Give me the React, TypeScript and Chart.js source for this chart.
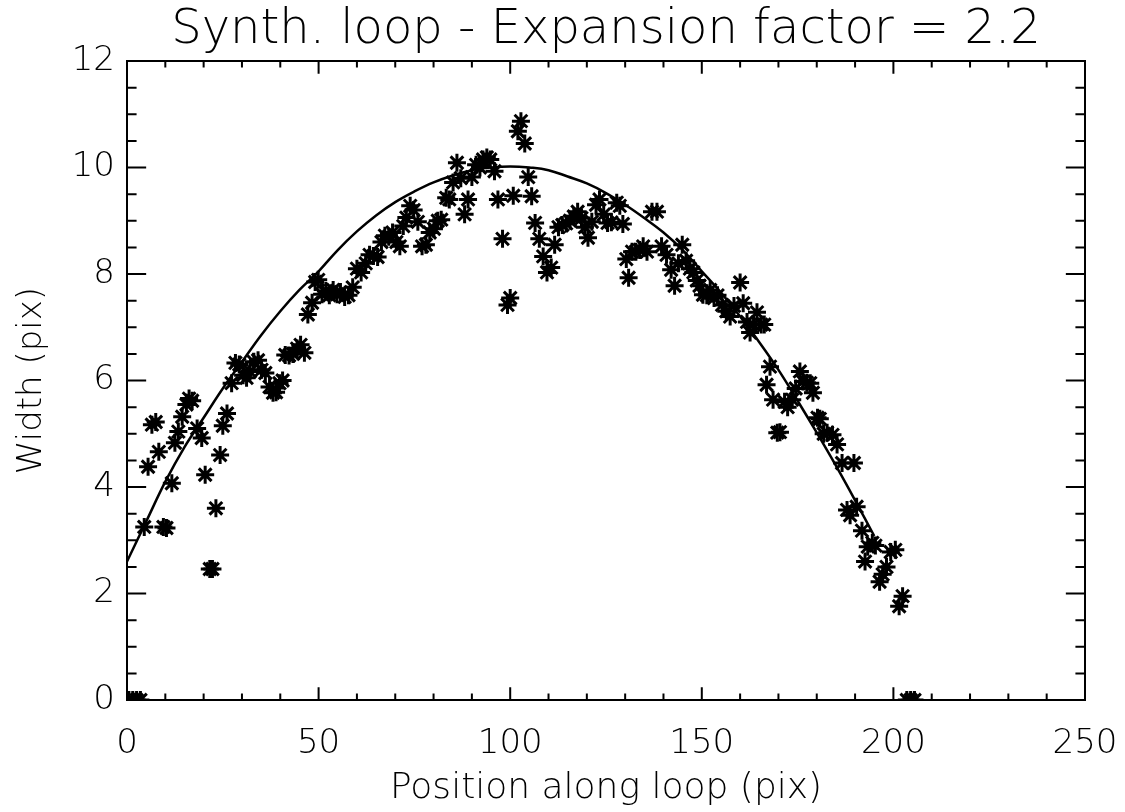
import React, { useEffect, useRef } from "react";
import { Chart, registerables } from "chart.js";

Chart.register(...registerables);

const TITLE = "Synth. loop - Expansion factor = 2.2";
const X_LABEL = "Position along loop (pix)";
const Y_LABEL = "Width (pix)";

// measured widths (stars)
const posX = [
  0.5, 1.5, 2.5, 3.5, 4.5, 5.5, 6.5, 7.5, 8.3, 9.5, 10.3, 11.7, 12.5, 13.4, 14.4, 15.5, 16.2, 17, 18.3, 19.5,
  20.4, 21.6, 22.3, 23.2, 24.3, 25, 26.1, 27.3, 28.3, 29.3, 30.3, 31.2, 32.1, 33.1, 34.2, 35.1, 36.1, 37.2, 38.1, 38.9,
  39.8, 40.6, 41.3, 42.3, 43.3, 44.4, 45.3, 46.3, 47.2, 48.3, 49.1, 49.9, 50.9, 51.9, 52.8, 53.8, 54.8, 55.7, 56.8, 57.8,
  58.9, 60, 61.1, 62.3, 63.3, 64.3, 65.4, 66.4, 67.3, 68.3, 69.3, 70.3, 71.2, 72.1, 72.9, 73.9, 74.8, 75.9, 77, 78,
  79, 80.1, 81.1, 82, 83.3, 84.1, 85.1, 86.1, 87.1, 88.1, 89, 90, 91.1, 92.1, 92.9, 93.9, 94.8, 95.9, 96.8, 98,
  99.3, 100, 100.8, 102, 102.8, 103.8, 104.7, 105.6, 106.5, 107.6, 108.6, 109.6, 110.7, 111.6, 112.6, 113.6, 114.6, 115.6, 116.6, 117.6,
  118.6, 119.5, 120.3, 121.3, 122.4, 123.3, 124.4, 125.4, 126.4, 127.8, 128.6, 129.4, 130.3, 130.9, 131.8, 132.8, 133.8, 134.7, 135.7, 137,
  138.3, 139.5, 140.8, 142, 142.9, 143.9, 144.9, 145.9, 146.9, 147.8, 148.7, 149.4, 150.3, 151.3, 152.2, 153.2, 154.1, 155.3, 156.4, 157.4,
  158.4, 160, 160.8, 161.8, 162.6, 163.5, 164.4, 165.5, 166.3, 166.9, 167.8, 168.6, 169.7, 170.4, 171.6, 172.4, 173.6, 174.5, 175.6, 176.4,
  177.4, 178.3, 179, 180.2, 180.8, 181.8, 182.7, 184.1, 185.3, 186.6, 187.9, 188.7, 189.7, 190.4, 191.8, 192.6, 193.3, 194.5, 195.3, 196.4,
  197.2, 198.2, 199.3, 200.5, 201.5, 202.4, 203.5, 204.5, 205.5,
];
const widthY = [
  0, 0, 0, 0, 3.25, 4.38, 5.17, 5.22, 4.66, 3.25, 3.23, 4.07, 4.83, 5.04, 5.32, 5.55, 5.66, 5.62, 5.1, 4.92,
  4.23, 2.46, 2.46, 3.6, 4.6, 5.15, 5.38, 5.95, 6.33, 6.3, 6.1, 6.05, 6.17, 6.35, 6.38, 6.2, 6.14, 5.88, 5.77, 5.78,
  5.95, 6.0, 6.48, 6.47, 6.5, 6.6, 6.67, 6.52, 7.24, 7.46, 7.85, 7.89, 7.62, 7.68, 7.6, 7.7, 7.62, 7.66, 7.57, 7.6,
  7.75, 8.1, 8.03, 8.2, 8.36, 8.34, 8.32, 8.6, 8.72, 8.7, 8.78, 8.6, 8.52, 8.9, 9.06, 9.28, 9.2, 8.98, 8.52, 8.55,
  8.78, 8.85, 9.0, 9.02, 9.43, 9.4, 9.72, 10.09, 9.8, 9.12, 9.4, 9.82, 10.05, 10.0, 10.15, 10.19, 10.15, 9.93, 9.4, 8.66,
  7.42, 7.55, 9.47, 10.68, 10.87, 10.45, 9.82, 9.46, 8.96, 8.66, 8.33, 8.03, 8.12, 8.55, 8.88, 8.92, 8.95, 9.0, 9.08, 9.17,
  9.05, 8.88, 8.68, 8.98, 9.3, 9.4, 9.12, 8.96, 8.97, 9.34, 9.28, 8.94, 8.28, 7.93, 8.42, 8.42, 8.45, 8.52, 8.42, 9.17,
  9.17, 8.52, 8.36, 8.08, 7.78, 8.2, 8.55, 8.25, 8.1, 8.03, 7.88, 7.78, 7.61, 7.6, 7.7, 7.55, 7.6, 7.42, 7.3, 7.2,
  7.4, 7.84, 7.45, 7.1, 6.9, 7.05, 7.28, 7.05, 7.05, 5.92, 6.26, 5.64, 5.02, 5.03, 5.6, 5.5, 5.64, 5.85, 6.17, 5.98,
  5.96, 5.95, 5.77, 5.3, 5.28, 5.0, 5.02, 4.98, 4.8, 4.45, 3.57, 3.47, 4.45, 3.63, 3.18, 2.6, 2.88, 2.95, 2.9, 2.22,
  2.36, 2.5, 2.78, 2.82, 1.76, 1.95, 0, 0, 0,
];

// fitted profile (solid line)
const fitX = [0, 5, 10, 15, 20, 25, 30, 35, 40, 45, 50, 55, 60, 65, 70, 75, 80, 85, 90, 95, 100, 105, 110, 115, 120, 125, 130, 135, 140, 145, 150, 155, 160, 165, 170, 175, 180, 185, 190, 195];
const fitY = [2.6, 3.35, 4.1, 4.75, 5.3, 5.85, 6.35, 6.85, 7.3, 7.7, 8.05, 8.45, 8.8, 9.1, 9.35, 9.55, 9.72, 9.85, 9.95, 10.0, 10.02, 10.0, 9.95, 9.83, 9.7, 9.52, 9.3, 9.05, 8.78, 8.45, 8.05, 7.65, 7.2, 6.72, 6.2, 5.62, 5.02, 4.4, 3.75, 3.08];

const X_MIN = 0, X_MAX = 250, X_MAJOR = 50, X_MINOR = 10;
const Y_MIN = 0, Y_MAX = 12, Y_MAJOR = 2, Y_MINOR = 0.5;

const FONT = "'DejaVu Sans', 'Liberation Sans', sans-serif";

const boxPlugin = {
  id: "idlBox",
  afterDatasetsDraw(chart: any) {
    const { ctx, chartArea: a, scales } = chart;
    const xs = scales.x, ys = scales.y;
    const h = a.bottom - a.top, w = a.right - a.left;
    const xMaj = 0.02 * h, yMaj = 0.02 * w;
    ctx.save();
    ctx.strokeStyle = "#000";
    ctx.lineWidth = 2;
    ctx.strokeRect(a.left, a.top, w, h);
    ctx.beginPath();
    for (let v = X_MIN; v <= X_MAX + 1e-6; v += X_MINOR) {
      const px = xs.getPixelForValue(v);
      const len = Math.abs(v % X_MAJOR) < 1e-6 ? xMaj : xMaj / 2;
      ctx.moveTo(px, a.bottom); ctx.lineTo(px, a.bottom - len);
      ctx.moveTo(px, a.top); ctx.lineTo(px, a.top + len);
    }
    for (let v = Y_MIN; v <= Y_MAX + 1e-6; v += Y_MINOR) {
      const py = ys.getPixelForValue(v);
      const len = Math.abs(v % Y_MAJOR) < 1e-6 ? yMaj : yMaj / 2;
      ctx.moveTo(a.left, py); ctx.lineTo(a.left + len, py);
      ctx.moveTo(a.right, py); ctx.lineTo(a.right - len, py);
    }
    ctx.stroke();
    ctx.restore();
  },
};

export default function App() {
  const ref = useRef<HTMLCanvasElement>(null);
  useEffect(() => {
    if (!ref.current) return;
    const stars = posX.map((x, i) => ({ x, y: widthY[i] }));
    const fit = fitX.map((x, i) => ({ x, y: fitY[i] }));
    const chart = new Chart(ref.current, {
      type: "scatter",
      data: {
        datasets: [
          {
            label: "fit",
            data: fit,
            showLine: true,
            borderColor: "#000",
            borderWidth: 2.5,
            pointRadius: 0,
            tension: 0.4,
            fill: false,
          } as any,
          {
            label: "width",
            data: stars,
            pointStyle: "star",
            pointRadius: 9,
            pointBorderWidth: 3,
            borderColor: "#000",
            backgroundColor: "#000",
            showLine: false,
          } as any,
        ],
      },
      options: {
        responsive: false,
        animation: false,
        layout: { padding: { top: 0, right: 40, bottom: 0, left: 0 } },
        plugins: {
          legend: { display: false },
          tooltip: { enabled: false },
          title: {
            display: true,
            text: TITLE,
            fullSize: false,
            color: "#000",
            font: { family: FONT, size: 48, weight: "200", lineHeight: 1.2 },
            padding: { top: 2, bottom: 1.4 },
          },
        },
        scales: {
          x: {
            type: "linear",
            min: X_MIN,
            max: X_MAX,
            grid: { display: false, drawTicks: false },
            border: { display: false },
            ticks: {
              stepSize: X_MAJOR,
              color: "#000",
              padding: 24,
              font: { family: FONT, size: 34, weight: "200" },
              maxRotation: 0,
            },
            title: {
              display: true,
              text: X_LABEL,
              color: "#000",
              font: { family: FONT, size: 36, weight: "200" },
              padding: { top: 0, bottom: 2 },
            },
            afterFit(scale: any) {
              scale.height = 112;
              scale.paddingLeft = 0;
              scale.paddingRight = 0;
            },
          },
          y: {
            type: "linear",
            min: Y_MIN,
            max: Y_MAX,
            grid: { display: false, drawTicks: false },
            border: { display: false },
            ticks: {
              stepSize: Y_MAJOR,
              color: "#000",
              padding: 12,
              font: { family: FONT, size: 34, weight: "200" },
            },
            title: {
              display: true,
              text: Y_LABEL,
              color: "#000",
              font: { family: FONT, size: 34, weight: "200" },
              padding: { top: 12, bottom: 0 },
            },
            afterFit(scale: any) {
              scale.width = 127;
              scale.paddingTop = 0;
              scale.paddingBottom = 0;
            },
          },
        },
      },
      plugins: [boxPlugin],
    });
    return () => chart.destroy();
  }, []);
  return (
    <div style={{ position: "absolute", left: 0, top: 0, width: 1125, height: 812, background: "#fff" }}>
      <canvas ref={ref} width={1125} height={812} style={{ width: 1125, height: 812, display: "block" }} />
    </div>
  );
}
